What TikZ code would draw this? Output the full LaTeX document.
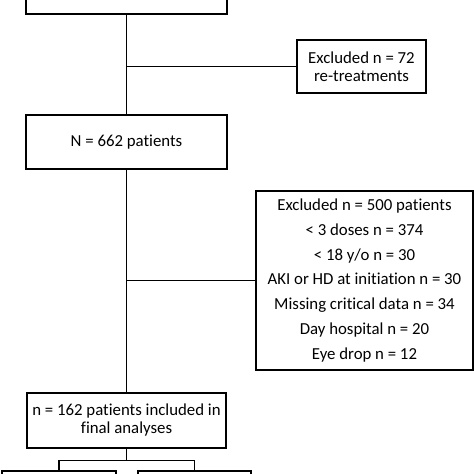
\documentclass[tikz,border=0pt]{standalone}
\usepackage{fontspec}
\setmainfont{Carlito}[Ligatures=NoCommon]
\usetikzlibrary{positioning,calc}
\tikzstyle{box}=[draw=black, line width=1.4pt, fill=white, inner sep=2pt, align=center, font=\fontsize{16.8}{18}\selectfont]
\tikzstyle{link}=[line width=1.4pt]

\begin{document}
\begin{tikzpicture}[x=1pt, y=-1pt]
        \useasboundingbox (0,0) rectangle (474,474);
        \clip (0,0) rectangle (474,474);
        %
        \node at (126.5,-13) [box, minimum width=201pt, minimum height=54pt] (all) {};
        \node at (361.5,66.5) [box, minimum width=129pt, minimum height=53pt] (excl1) {Excluded n = 72\\re-treatments};
        \node at (126.5,142) [box, minimum width=201pt, minimum height=54pt] (n662) {N = 662 patients};
        \node at (364.5,280.5) [box, minimum width=217pt, minimum height=179pt,
              font=\fontsize{16.8}{24.7}\selectfont] (excl2) {Excluded n = 500 patients\\
              {<} 3 doses n = 374\\
              {<} 18 y/o n = 30\\
              AKI or HD at initiation n = 30\\
              Missing critical data n = 34\\
              Day hospital n = 20\\
              Eye drop n = 12};
        \node at (126.5,420.5) [box, minimum width=199pt, minimum height=55pt] (n162) {n = 162 patients included in\\final analyses};
        \node at (59,491) [box, minimum width=114pt, minimum height=40pt] (armA) {};
        \node at (194.5,491) [box, minimum width=113pt, minimum height=40pt] (armB) {};
        %
        \draw[link] (all.south) -- (n662.north);
        \draw[link] (excl1.west) -- (excl1.west -| all.south);
        \draw[link] (n662.south) -- (n162.north);
        \draw[link] (excl2.west) -- (excl2.west -| n662.south);
        \draw[link] (n162.south) -- ++(0,12) coordinate (split);
        \draw[link] (armA.north) |- (split) -| (armB.north);
\end{tikzpicture}
\end{document}
